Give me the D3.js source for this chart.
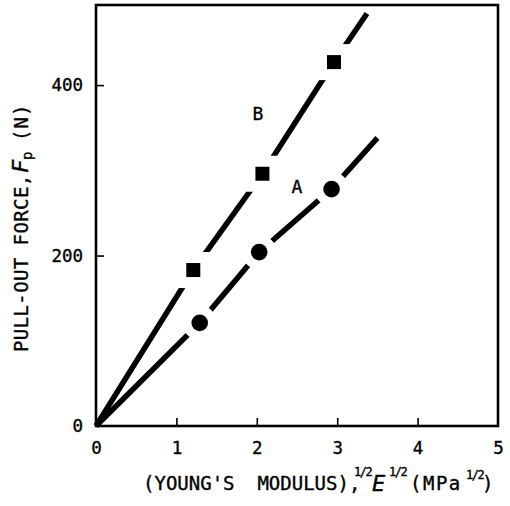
<!DOCTYPE html>
<html>
<head>
<meta charset="utf-8">
<script src="https://cdn.jsdelivr.net/npm/d3@7"></script>
<style>
  body { margin: 0; background: #fff; }
  svg { display: block; }
  text { stroke: #000; stroke-width: 0.35px; }
</style>
</head>
<body>
<script>
// data
const xTicks = [0, 1, 2, 3, 4, 5];
const yTicks = [0, 200, 400];

// curve B (squares)
const bX = [1.21, 2.07, 2.96];
const bY = [183, 296, 427];
// curve A (circles)
const aX = [1.29, 2.03, 2.93];
const aY = [121, 204, 278];

// drawn lines: origin, through the points, to the end of each curve
const lineBX = [0, 1.21, 2.07, 2.96, 3.37];
const lineBY = [0, 183, 296, 427, 484];
const lineAX = [0, 1.29, 2.03, 2.93, 3.50];
const lineAY = [0, 121, 204, 278, 338];

const font = "'DejaVu Sans Mono', 'Liberation Mono', monospace";

const svg = d3.select("body").append("svg")
  .attr("width", 510)
  .attr("height", 506);

const x = d3.scaleLinear().domain([0, 5]).range([96, 498]);
const y = d3.scaleLinear().domain([0, 494]).range([426, 5]);

// axes with inward ticks
const xAxis = svg.append("g")
  .attr("transform", "translate(0,426)")
  .call(d3.axisBottom(x).tickValues(xTicks).tickSize(-8).tickPadding(16).tickFormat(d3.format("d")));
const yAxis = svg.append("g")
  .attr("transform", "translate(96,0)")
  .call(d3.axisLeft(y).tickValues(yTicks).tickSize(-8).tickPadding(13).tickFormat(d3.format("d")));

[xAxis, yAxis].forEach(g => {
  g.select(".domain").remove();
  g.selectAll(".tick line").attr("stroke", "#000").attr("stroke-width", 1.6);
  g.selectAll(".tick text")
    .attr("font-family", font)
    .attr("font-size", "17.5px")
    .attr("fill", "#000");
});
xAxis.selectAll(".tick").filter(d => d === 0 || d === 5).select("line").remove();
yAxis.selectAll(".tick").filter(d => d === 0).select("line").remove();

// frame
svg.append("rect")
  .attr("x", x(0))
  .attr("y", y(494))
  .attr("width", x(5) - x(0))
  .attr("height", y(0) - y(494))
  .attr("fill", "none")
  .attr("stroke", "#000")
  .attr("stroke-width", 2.6);

const line = d3.line()
  .x(d => x(d[0]))
  .y(d => y(d[1]));

svg.append("path")
  .datum(d3.zip(lineBX, lineBY))
  .attr("d", line)
  .attr("fill", "none")
  .attr("stroke", "#000")
  .attr("stroke-width", 5.5);

svg.append("path")
  .datum(d3.zip(lineAX, lineAY))
  .attr("d", line)
  .attr("fill", "none")
  .attr("stroke", "#000")
  .attr("stroke-width", 5.5);

// markers with a white halo that breaks the line
svg.selectAll(".sq")
  .data(d3.zip(bX, bY))
  .enter()
  .append("rect")
  .attr("x", d => x(d[0]) - 7)
  .attr("y", d => y(d[1]) - 7)
  .attr("width", 14)
  .attr("height", 14)
  .attr("fill", "#000")
  .attr("stroke", "#fff")
  .attr("stroke-width", 22)
  .style("paint-order", "stroke");

svg.selectAll(".ci")
  .data(d3.zip(aX, aY))
  .enter()
  .append("circle")
  .attr("cx", d => x(d[0]))
  .attr("cy", d => y(d[1]))
  .attr("r", 8.3)
  .attr("fill", "#000")
  .attr("stroke", "#fff")
  .attr("stroke-width", 18)
  .style("paint-order", "stroke");

// curve labels
svg.append("text")
  .attr("x", 258)
  .attr("y", 120)
  .attr("text-anchor", "middle")
  .attr("font-family", font)
  .attr("font-size", "18px")
  .text("B");
svg.append("text")
  .attr("x", 297)
  .attr("y", 193)
  .attr("text-anchor", "middle")
  .attr("font-family", font)
  .attr("font-size", "18px")
  .text("A");

// y axis title (rotated, x runs upward as -screen y)
const yt = svg.append("text")
  .attr("transform", "translate(28,0) rotate(-90)")
  .attr("font-family", font)
  .attr("fill", "#000");
yt.append("tspan").attr("x", -352).attr("y", 0).attr("font-size", "19px")
  .attr("letter-spacing", "0.4px").text("PULL-OUT FORCE,");
yt.append("tspan").attr("x", -173).attr("y", 0).attr("font-size", "22px")
  .attr("font-style", "italic").text("F");
yt.append("tspan").attr("x", -160).attr("y", 4).attr("font-size", "14px").text("p");
yt.append("tspan").attr("x", -141).attr("y", 0).attr("font-size", "19px")
  .attr("letter-spacing", "1px").text("(N)");

// x axis title
const xt = svg.append("text")
  .attr("font-family", font)
  .attr("fill", "#000")
  .style("white-space", "pre");
xt.append("tspan").attr("x", 143).attr("y", 490).attr("font-size", "19px")
  .text("(YOUNG'S  MODULUS),");
xt.append("tspan").attr("x", 354).attr("y", 476).attr("font-size", "12px")
  .attr("letter-spacing", "-1.5px").text("1/2");
xt.append("tspan").attr("x", 372).attr("y", 491).attr("font-size", "22px")
  .attr("font-style", "italic").text("E");
xt.append("tspan").attr("x", 389).attr("y", 476).attr("font-size", "12px")
  .attr("letter-spacing", "-1.5px").text("1/2");
xt.append("tspan").attr("x", 410).attr("y", 490).attr("font-size", "19px")
  .attr("letter-spacing", "1.5px").text("(MPa");
xt.append("tspan").attr("x", 466).attr("y", 479).attr("font-size", "12px")
  .attr("letter-spacing", "-1.5px").text("1/2");
xt.append("tspan").attr("x", 482).attr("y", 490).attr("font-size", "19px").text(")");
</script>
</body>
</html>
